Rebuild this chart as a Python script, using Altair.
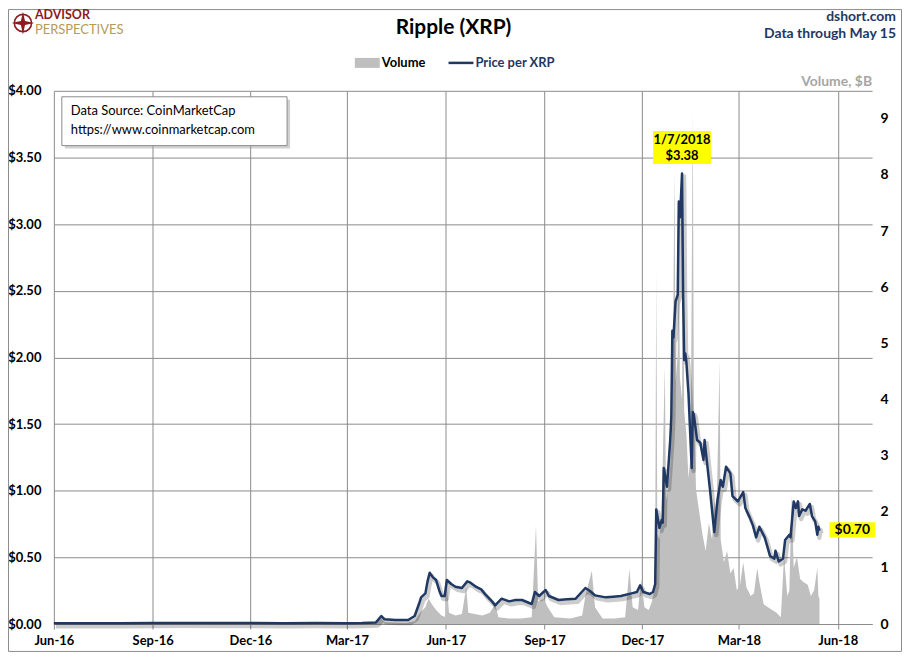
import altair as alt
import pandas as pd

# ---------------- data ----------------
price_dates = [
    "2016-06-01", "2016-07-01", "2016-08-01", "2016-09-01", "2016-10-01", "2016-11-01",
    "2016-12-01", "2017-01-01", "2017-02-01", "2017-03-01", "2017-03-15", "2017-03-28",
    "2017-04-02", "2017-04-05", "2017-04-15", "2017-04-27", "2017-04-30", "2017-05-03",
    "2017-05-07", "2017-05-09", "2017-05-13", "2017-05-15", "2017-05-17", "2017-05-20",
    "2017-05-23", "2017-05-26", "2017-05-28", "2017-05-31", "2017-06-02", "2017-06-06",
    "2017-06-10", "2017-06-16", "2017-06-21", "2017-06-24", "2017-06-29", "2017-07-04",
    "2017-07-08", "2017-07-14", "2017-07-17", "2017-07-23", "2017-07-30", "2017-08-05",
    "2017-08-11", "2017-08-20", "2017-08-23", "2017-08-27", "2017-09-02", "2017-09-05",
    "2017-09-14", "2017-09-22", "2017-09-30", "2017-10-09", "2017-10-13", "2017-10-18",
    "2017-10-28", "2017-11-04", "2017-11-11", "2017-11-21", "2017-11-26", "2017-11-29",
    "2017-12-02", "2017-12-08", "2017-12-11", "2017-12-13", "2017-12-14", "2017-12-17",
    "2017-12-19", "2017-12-20", "2017-12-21", "2017-12-24", "2017-12-27", "2017-12-28",
    "2017-12-29", "2017-12-30", "2018-01-01", "2018-01-03", "2018-01-04", "2018-01-05",
    "2018-01-06", "2018-01-07", "2018-01-08", "2018-01-09", "2018-01-10", "2018-01-11",
    "2018-01-13", "2018-01-16", "2018-01-17", "2018-01-18", "2018-01-21", "2018-01-24",
    "2018-01-27", "2018-01-28", "2018-01-30", "2018-02-02", "2018-02-06", "2018-02-09",
    "2018-02-12", "2018-02-14", "2018-02-17", "2018-02-21", "2018-02-23", "2018-02-28",
    "2018-03-05", "2018-03-07", "2018-03-11", "2018-03-14", "2018-03-17", "2018-03-20",
    "2018-03-25", "2018-03-30", "2018-04-03", "2018-04-04", "2018-04-07", "2018-04-11",
    "2018-04-13", "2018-04-17", "2018-04-18", "2018-04-21", "2018-04-23", "2018-04-25",
    "2018-04-26", "2018-04-29", "2018-05-02", "2018-05-06", "2018-05-08", "2018-05-11",
    "2018-05-13", "2018-05-14", "2018-05-15",
]
price_values = [
    0.0060, 0.0065, 0.0063, 0.0070, 0.0085, 0.0080,
    0.0078, 0.0065, 0.0070, 0.0065, 0.0080, 0.0120,
    0.060, 0.035, 0.030, 0.030, 0.045, 0.060,
    0.150, 0.200, 0.230, 0.320, 0.385, 0.350,
    0.330, 0.250, 0.210, 0.210, 0.330, 0.300,
    0.280, 0.270, 0.320, 0.310, 0.280, 0.260,
    0.220, 0.170, 0.140, 0.190, 0.170, 0.180,
    0.180, 0.150, 0.240, 0.210, 0.255, 0.210,
    0.180, 0.185, 0.190, 0.270, 0.250, 0.215,
    0.200, 0.205, 0.210, 0.230, 0.240, 0.290,
    0.240, 0.225, 0.240, 0.300, 0.860, 0.720,
    0.780, 0.760, 1.170, 1.030, 1.380, 1.550,
    2.200, 2.150, 2.420, 2.470, 3.170, 3.050,
    3.200, 3.380, 2.470, 1.980, 2.030, 1.970,
    1.730, 1.170, 1.590, 1.570, 1.380, 1.360,
    1.230, 1.380, 1.230, 1.010, 0.690, 0.930,
    1.080, 1.030, 1.180, 1.130, 0.960, 0.920,
    0.990, 0.870, 0.800, 0.740, 0.650, 0.730,
    0.650, 0.510, 0.490, 0.550, 0.470, 0.490,
    0.630, 0.670, 0.650, 0.920, 0.870, 0.920,
    0.810, 0.860, 0.850, 0.900, 0.810, 0.770,
    0.670, 0.730, 0.700,
]

volume_dates = [
    "2016-06-01", "2016-09-01", "2016-12-01", "2017-03-01", "2017-03-25", "2017-04-02",
    "2017-04-05", "2017-04-25", "2017-05-03", "2017-05-08", "2017-05-13", "2017-05-16",
    "2017-05-19", "2017-05-23", "2017-05-28", "2017-06-01", "2017-06-02", "2017-06-04",
    "2017-06-10", "2017-06-16", "2017-06-20", "2017-06-22", "2017-06-28", "2017-07-05",
    "2017-07-12", "2017-07-17", "2017-07-20", "2017-07-30", "2017-08-10", "2017-08-20",
    "2017-08-24", "2017-08-26", "2017-08-31", "2017-09-04", "2017-09-10", "2017-09-25",
    "2017-10-06", "2017-10-09", "2017-10-15", "2017-10-18", "2017-10-25", "2017-11-05",
    "2017-11-15", "2017-11-19", "2017-11-22", "2017-11-27", "2017-11-30", "2017-12-03",
    "2017-12-07", "2017-12-10", "2017-12-12", "2017-12-13", "2017-12-14", "2017-12-15",
    "2017-12-17", "2017-12-19", "2017-12-22", "2017-12-23", "2017-12-25", "2017-12-27",
    "2017-12-29", "2017-12-31", "2018-01-01", "2018-01-03", "2018-01-04", "2018-01-05",
    "2018-01-07", "2018-01-08", "2018-01-09", "2018-01-11", "2018-01-13", "2018-01-15",
    "2018-01-17", "2018-01-18", "2018-01-20", "2018-01-23", "2018-01-26", "2018-01-29",
    "2018-02-01", "2018-02-04", "2018-02-06", "2018-02-08", "2018-02-11", "2018-02-12",
    "2018-02-15", "2018-02-18", "2018-02-21", "2018-02-24", "2018-02-27", "2018-03-02",
    "2018-03-05", "2018-03-08", "2018-03-12", "2018-03-15", "2018-03-18", "2018-03-20",
    "2018-03-24", "2018-03-28", "2018-04-01", "2018-04-05", "2018-04-09", "2018-04-12",
    "2018-04-15", "2018-04-17", "2018-04-19", "2018-04-21", "2018-04-24", "2018-04-27",
    "2018-04-30", "2018-05-04", "2018-05-07", "2018-05-10", "2018-05-13", "2018-05-14",
    "2018-05-15",
]
volume_values = [
    0.001, 0.002, 0.002, 0.003, 0.010, 0.100,
    0.030, 0.020, 0.050, 0.200, 0.300, 0.450,
    0.350, 0.250, 0.150, 0.120, 0.700, 0.200,
    0.150, 0.180, 0.650, 0.200, 0.180, 0.150,
    0.200, 0.350, 0.120, 0.100, 0.100, 0.120,
    1.750, 0.400, 0.450, 0.300, 0.120, 0.100,
    0.150, 0.500, 0.950, 0.300, 0.100, 0.100,
    0.120, 0.980, 0.300, 0.250, 0.800, 0.300,
    0.250, 0.400, 0.600, 1.300, 6.300, 1.600,
    1.500, 2.000, 4.600, 2.200, 2.400, 2.800,
    3.600, 8.100, 4.300, 4.800, 7.000, 4.400,
    4.000, 7.500, 3.800, 3.400, 2.600, 3.000,
    9.100, 4.000, 2.400, 2.000, 1.600, 1.300,
    1.800, 1.500, 2.200, 1.800, 4.700, 1.500,
    1.100, 1.300, 0.900, 1.000, 0.600, 0.700,
    1.100, 0.650, 0.500, 0.550, 1.000, 0.750,
    0.350, 0.300, 0.250, 0.200, 0.120, 1.200,
    0.500, 0.600, 2.300, 1.000, 1.200, 0.800,
    0.750, 0.700, 0.500, 0.600, 1.000, 0.500,
    0.450,
]

quarter_ticks = [(2016, 6), (2016, 9), (2016, 12), (2017, 3), (2017, 6),
                 (2017, 9), (2017, 12), (2018, 3), (2018, 6)]
price_ticks = [0.0, 0.5, 1.0, 1.5, 2.0, 2.5, 3.0, 3.5, 4.0]
volume_ticks = [0, 1, 2, 3, 4, 5, 6, 7, 8, 9]

peak_date = "2018-01-07"
peak_price = 3.38
last_date = "2018-05-15"
last_price = 0.70

# ---------------- tables ----------------
price_df = pd.DataFrame({"date": [d + "T00:00:00" for d in price_dates], "price": price_values})
vol_df = pd.DataFrame({"date": [d + "T00:00:00" for d in volume_dates], "volume": volume_values})
peak_df = pd.DataFrame({"date": [peak_date + "T00:00:00"], "price": [peak_price],
                        "l1": ["1/7/2018"], "l2": ["$%.2f" % peak_price]})
last_df = pd.DataFrame({"date": [last_date + "T00:00:00"], "price": [last_price],
                        "lbl": ["$%.2f" % last_price]})
one = pd.DataFrame({"k": [0]})

FONT = "Lato"
NAVY = "#1F3864"
GRID = "#8C8C8C"

x_domain = [alt.DateTime(year=2016, month=6, date=1), alt.DateTime(year=2018, month=7, date=3)]
x_values = [alt.DateTime(year=y, month=m, date=1) for y, m in quarter_ticks]
x_scale = alt.Scale(domain=x_domain, nice=False)

x_axis = alt.Axis(values=x_values, format="%b-%y", grid=True, gridColor=GRID,
                  domainColor=GRID, tickColor=GRID, tickSize=5, labelPadding=6,
                  labelFont=FONT, labelFontSize=13, labelFontWeight="bold", labelColor="#000000",
                  labelOverlap=False, labelFlush=False, title=None)

p_scale = alt.Scale(domain=[0, 4], nice=False, zero=True)
p_axis = alt.Axis(orient="left", values=price_ticks, format="$.2f", grid=True, gridColor=GRID,
                  domain=False, ticks=False, labelPadding=13,
                  labelFont=FONT, labelFontSize=13, labelFontWeight="bold", labelColor="#000000",
                  title=None)

v_scale = alt.Scale(domain=[0, 9.5], nice=False, zero=True)
v_axis = alt.Axis(orient="right", values=volume_ticks, format="d", grid=False, domain=False,
                  ticks=False, labelPadding=8, labelFont=FONT, labelFontSize=14,
                  labelFontWeight="bold", labelColor="#000000", title=None)

# every data layer carries the same x axis definition so that they merge into one
X = alt.X("date:T", scale=x_scale, axis=x_axis)
YP = alt.Y("price:Q", scale=p_scale, axis=None)

# ---------------- marks ----------------
price_axes = alt.Chart(price_df).mark_line(opacity=0, strokeWidth=0).encode(
    x=X,
    y=alt.Y("price:Q", scale=p_scale, axis=p_axis),
)

volume_area = alt.Chart(vol_df).mark_area(color="#BFBFBF", opacity=1, interpolate="linear").encode(
    x=X,
    y=alt.Y("volume:Q", scale=v_scale, axis=v_axis),
)

shadow = alt.Chart(price_df).mark_line(color="#000000", opacity=0.2, strokeWidth=4.5,
                                       xOffset=2, yOffset=3, strokeJoin="round").encode(x=X, y=YP)

line = alt.Chart(price_df).mark_line(color=NAVY, strokeWidth=2.5, strokeJoin="round").encode(x=X, y=YP)

peak_box = alt.Chart(peak_df).mark_point(
    shape="M-1,-0.569L1,-0.569L1,0.569L-1,0.569Z", size=3364, filled=True,
    fill="#FFFF00", opacity=1, strokeWidth=0, yOffset=-26).encode(x=X, y=YP)
peak_t1 = alt.Chart(peak_df).mark_text(font=FONT, fontSize=13, fontWeight="bold", color="#000000",
                                       dy=-34, align="center", baseline="middle").encode(
    x=X, y=YP, text="l1:N")
peak_t2 = alt.Chart(peak_df).mark_text(font=FONT, fontSize=13, fontWeight="bold", color="#000000",
                                       dy=-17, align="center", baseline="middle").encode(
    x=X, y=YP, text="l2:N")
last_box = alt.Chart(last_df).mark_point(
    shape="M-1,-0.33L1,-0.33L1,0.33L-1,0.33Z", size=2116, filled=True,
    fill="#FFFF00", opacity=1, strokeWidth=0, xOffset=33, yOffset=-1).encode(x=X, y=YP)
last_t = alt.Chart(last_df).mark_text(font=FONT, fontSize=14, fontWeight="bold", color="#000000",
                                      dx=33, dy=-1, align="center", baseline="middle").encode(
    x=X, y=YP, text="lbl:N")


# ---------------- decorations (page furniture) ----------------
def txt(x, y, s, size, weight="normal", color="#000000", align="left", font=FONT):
    return alt.Chart(one).mark_text(text=s, font=font, fontSize=size, fontWeight=weight,
                                    color=color, align=align, baseline="middle").encode(
        x=alt.value(x), y=alt.value(y))


def box(x1, x2, y1, y2, fill, stroke=None, opacity=1.0):
    kw = dict(fill=fill, opacity=opacity)
    if stroke:
        kw.update(stroke=stroke, strokeWidth=1)
    return alt.Chart(one).mark_rect(**kw).encode(
        x=alt.value(x1), x2=alt.value(x2), y=alt.value(y1), y2=alt.value(y2))


frame = alt.Chart(one).mark_rect(fill="#FFFFFF", fillOpacity=0, stroke="#8C8C8C",
                                 strokeWidth=1).encode(
    x=alt.value(-45.5), x2=alt.value(850.5), y=alt.value(-81.5), y2=alt.value(562.5))

title = txt(401, -63, "Ripple (XRP)", 21, "bold", align="center")
site = txt(845, -74, "dshort.com", 14, "bold", NAVY, align="right")
through = txt(845, -57, "Data through May 15", 14, "bold", NAVY, align="right")
vol_title = txt(821, -9, "Volume, $B", 14, "bold", "#A6A6A6", align="right")

leg_rect = box(302, 327, -33, -23, "#BFBFBF")
leg_t1 = txt(329, -28, "Volume", 13, "bold", "#000000")
leg_line = alt.Chart(one).mark_rule(color=NAVY, strokeWidth=2.5).encode(
    x=alt.value(396), x2=alt.value(421), y=alt.value(-28))
leg_t2 = txt(423, -28, "Price per XRP", 13, "bold", NAVY)

logo_circle = alt.Chart(one).mark_point(shape="circle", size=300, filled=False, stroke="#8B1C1C",
                                        strokeWidth=1.6, opacity=1).encode(
    x=alt.value(-31), y=alt.value(-68))
logo_star = alt.Chart(one).mark_point(
    shape="M0,-1L0.18,-0.18L1,0L0.18,0.18L0,1L-0.18,0.18L-1,0L-0.18,-0.18Z",
    size=520, filled=True, fill="#8B1C1C", strokeWidth=0, opacity=1).encode(
    x=alt.value(-31), y=alt.value(-68))
logo_t1 = txt(-19, -76, "ADVISOR", 12.5, "bold", "#8B1C1C")
logo_t2 = txt(-19, -61, "PERSPECTIVES", 13, "normal", "#B59A5B")

src_shadow = box(11, 237, 9, 58, "#9A9A9A", opacity=0.45)
src_box = box(8, 234, 6, 55, "#FFFFFF", stroke="#8C8C8C")
src_t1 = txt(17, 20, "Data Source: CoinMarketCap", 13)
src_t2 = txt(17, 39, "https://www.coinmarketcap.com", 13)

chart = alt.layer(
    price_axes, volume_area, shadow, line,
    peak_box, peak_t1, peak_t2, last_box, last_t,
    frame, title, site, through, vol_title, leg_rect, leg_t1, leg_line, leg_t2,
    logo_circle, logo_star, logo_t1, logo_t2,
    src_shadow, src_box, src_t1, src_t2,
).resolve_scale(y="independent").properties(
    width=821, height=535,
    padding={"left": 46, "top": 82, "right": 30, "bottom": 28},
    autosize=alt.AutoSizeParams(type="none"),
    background="#FFFFFF",
).configure_view(stroke=None)

chart.save("out.html", embed_options={"renderer": "svg", "actions": False})
